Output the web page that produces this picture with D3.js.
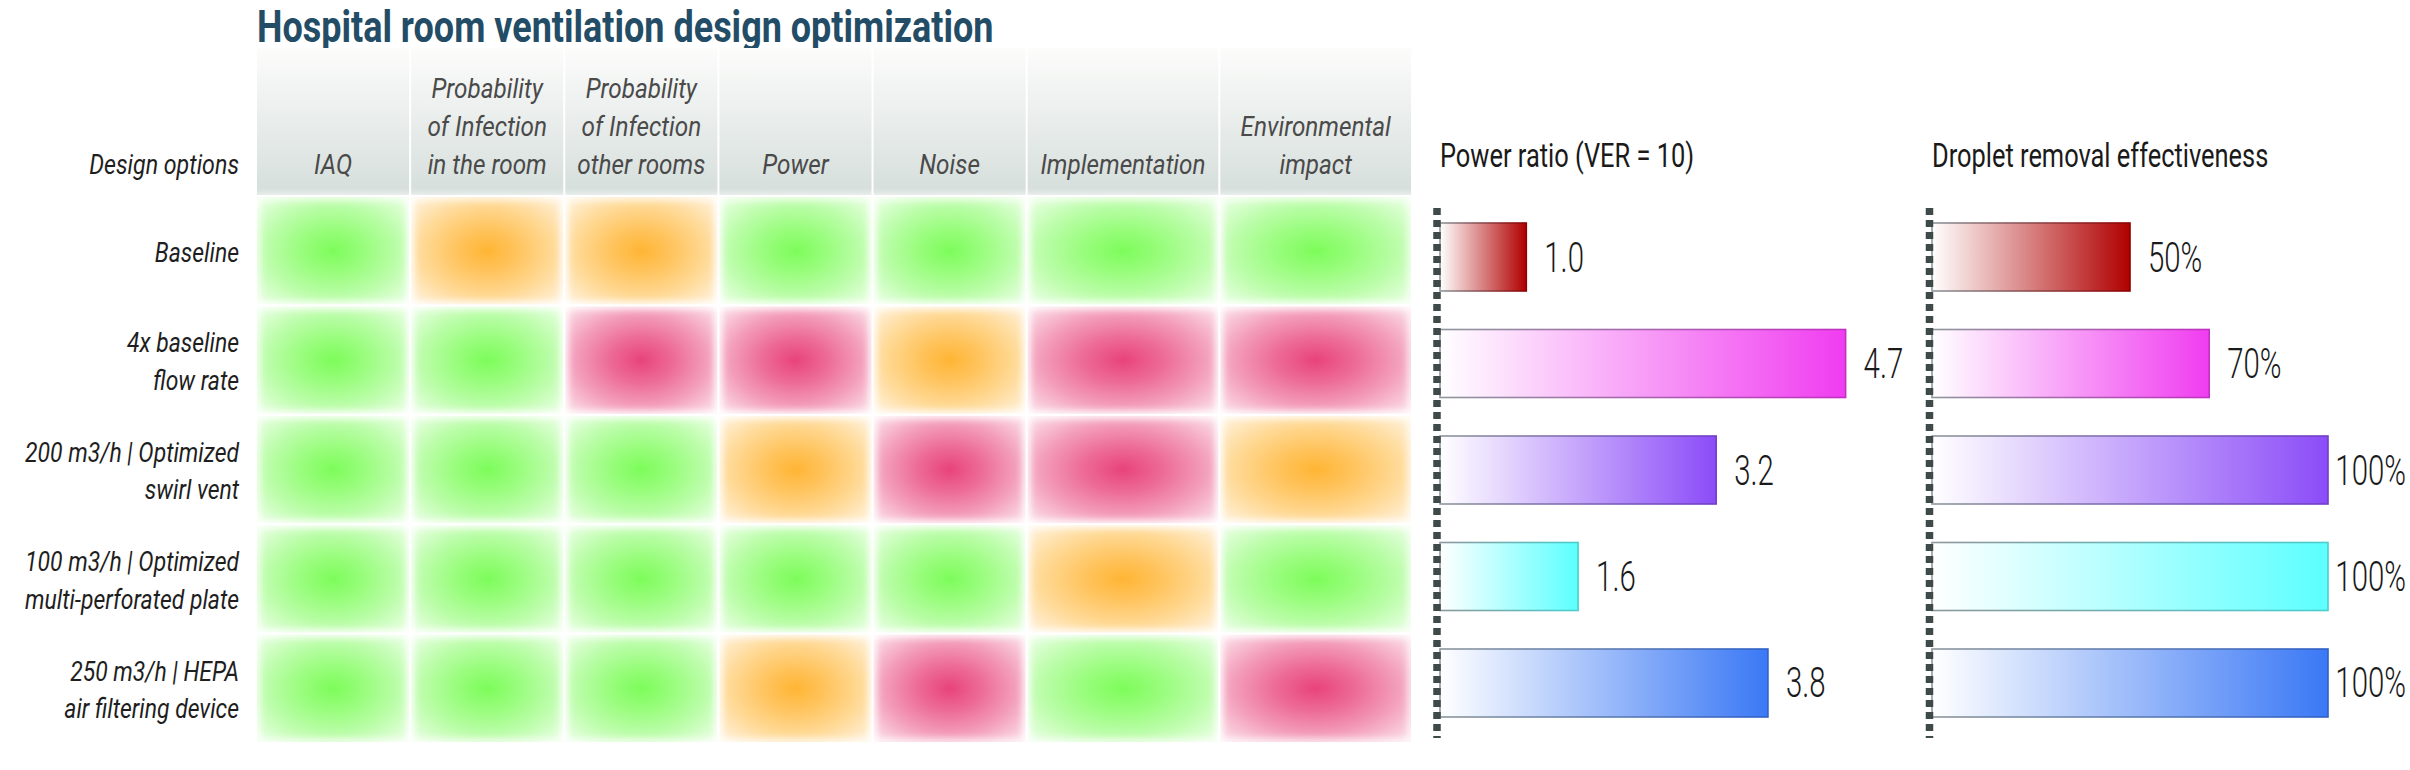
<!DOCTYPE html>
<html>
<head>
<meta charset="utf-8">
<script src="https://cdn.jsdelivr.net/npm/d3@7/dist/d3.min.js"></script>
<style>
  html, body { margin: 0; padding: 0; background: #ffffff; }
  svg { display: block; }
</style>
</head>
<body>
<svg id="chart" width="2410" height="770"></svg>
<script>
// ---------------- DATA ----------------
const chartTitle = "Hospital room ventilation design optimization";
const rowHeaderLabel = "Design options";
const designOptions = [
  "Baseline",
  "4x baseline\nflow rate",
  "200 m3/h | Optimized\nswirl vent",
  "100 m3/h | Optimized\nmulti-perforated plate",
  "250 m3/h | HEPA\nair filtering device"
];
const criteria = [
  "IAQ",
  "Probability\nof Infection\nin the room",
  "Probability\nof Infection\nother rooms",
  "Power",
  "Noise",
  "Implementation",
  "Environmental\nimpact"
];
// rating per option per criterion: 1 = good (green), 2 = moderate (orange), 3 = poor (red)
const ratingBaseline = [1, 2, 2, 1, 1, 1, 1];
const rating4x       = [1, 1, 3, 3, 2, 3, 3];
const rating200      = [1, 1, 1, 2, 3, 3, 2];
const rating100      = [1, 1, 1, 1, 1, 2, 1];
const rating250      = [1, 1, 1, 2, 3, 1, 3];
const ratings = [ratingBaseline, rating4x, rating200, rating100, rating250];

const powerTitle = "Power ratio (VER = 10)";
const powerRatio = [1.0, 4.7, 3.2, 1.6, 3.8];
const dropletTitle = "Droplet removal effectiveness";
const dropletRemoval = [50, 70, 100, 100, 100];

// ---------------- STYLE / LAYOUT ----------------
const W = 2410, H = 770;
const FONT = "Roboto, 'Liberation Sans', 'DejaVu Sans', sans-serif";
const ratingColors = {1: "#7dfc5a", 2: "#ffb534", 3: "#e8437a"};
const barColors = ["#b00000", "#f03cf0", "#8b4cf8", "#5cffff", "#3a78f5"];
const colWeights = [1, 1, 1, 1, 1, 1.25, 1.25];

const svg = d3.select("#chart");
svg.append("rect").attr("width", W).attr("height", H).attr("fill", "#ffffff");
const defs = svg.append("defs");

// condensed text helper
function ctext(parent, x, y, str, o) {
  const g = parent.append("g")
    .attr("transform", `translate(${x},${y}) scale(${o.sx || 0.8},1)`);
  const t = g.append("text")
    .attr("x", 0).attr("y", 0)
    .attr("font-family", FONT)
    .attr("font-size", o.size)
    .attr("font-weight", o.weight || 400)
    .attr("font-style", o.style || "normal")
    .attr("text-anchor", o.anchor || "start")
    .attr("fill", o.fill || "#222")
    .text(str);
  return {g, t};
}

// ---------------- TITLE ----------------
ctext(svg, 257, 42, chartTitle, {size: 44, weight: 700, fill: "#234d66", sx: 0.818});

// ---------------- HEATMAP ----------------
const cum = [0];
colWeights.forEach(w => cum.push(cum[cum.length - 1] + w));
const xCol = d3.scaleLinear().domain([0, cum[cum.length - 1]]).range([256, 1412]);
const yRow = d3.scaleBand().domain(d3.range(designOptions.length)).range([196, 743]);
const headerTop = 48, headerBottom = 195;

// header gradient
const hg = defs.append("linearGradient").attr("id", "hdr")
  .attr("x1", 0).attr("y1", 0).attr("x2", 0).attr("y2", 1);
hg.append("stop").attr("offset", "0%").attr("stop-color", "#fcfcfb");
hg.append("stop").attr("offset", "100%").attr("stop-color", "#d5dedb");

// radial gradients per rating
Object.entries(ratingColors).forEach(([k, c]) => {
  const rg = defs.append("radialGradient").attr("id", "rg" + k)
    .attr("cx", "50%").attr("cy", "50%").attr("r", "71%");
  const mix = t => d3.interpolateRgb("#ffffff", c)(t);
  [[0, 1], [0.3, 0.78], [0.6, 0.52], [0.8, 0.32], [1, 0.12]].forEach(([off, t]) => {
    rg.append("stop").attr("offset", off).attr("stop-color", mix(t));
  });
});
// soft white inner edge
const glow = defs.append("filter").attr("id", "glow")
  .attr("x", "-10%").attr("y", "-10%").attr("width", "120%").attr("height", "120%");
glow.append("feGaussianBlur").attr("stdDeviation", 3.5);

const header = svg.append("g");
criteria.forEach((c, i) => {
  const x0 = xCol(cum[i]), x1 = xCol(cum[i + 1]);
  header.append("rect")
    .attr("x", x0 + 1).attr("y", headerTop)
    .attr("width", x1 - x0 - 2).attr("height", headerBottom - headerTop)
    .attr("fill", "url(#hdr)");
  const lines = c.split("\n");
  lines.forEach((ln, j) => {
    const y = 174 - (lines.length - 1 - j) * 38;
    ctext(header, (x0 + x1) / 2, y, ln, {size: 27, weight: 400, style: "italic", anchor: "middle", fill: "#4a4a4a", sx: 0.9});
  });
});
ctext(header, 239, 174, rowHeaderLabel, {size: 27, weight: 400, style: "italic", anchor: "end", fill: "#1e1e1e", sx: 0.86});

const cells = svg.append("g");
ratings.forEach((row, r) => {
  row.forEach((v, i) => {
    const x0 = xCol(cum[i]), x1 = xCol(cum[i + 1]);
    cells.append("rect")
      .attr("x", x0 + 1).attr("y", yRow(r) + 1)
      .attr("width", x1 - x0 - 2).attr("height", yRow.bandwidth() - 2)
      .attr("fill", `url(#rg${v})`);
  });
});
const edges = svg.append("g").attr("filter", "url(#glow)");
ratings.forEach((row, r) => {
  row.forEach((v, i) => {
    const x0 = xCol(cum[i]), x1 = xCol(cum[i + 1]);
    edges.append("rect")
      .attr("x", x0 + 1).attr("y", yRow(r) + 1)
      .attr("width", x1 - x0 - 2).attr("height", yRow.bandwidth() - 2)
      .attr("fill", "none").attr("stroke", "#ffffff").attr("stroke-width", 5);
  });
});

// row labels
const rowLabels = svg.append("g");
designOptions.forEach((lab, r) => {
  const lines = lab.split("\n");
  const cy = yRow(r) + yRow.bandwidth() / 2;
  lines.forEach((ln, j) => {
    const y = cy + 11 + (j - (lines.length - 1) / 2) * 37.5;
    ctext(rowLabels, 239, y, ln, {size: 27, weight: 400, style: "italic", anchor: "end", fill: "#1e1e1e", sx: 0.85});
  });
});

// ---------------- BAR PANELS ----------------
const yBar = d3.scaleBand().domain(d3.range(designOptions.length))
  .range([223, 717]).paddingInner(0.3615).paddingOuter(0);

barColors.forEach((c, i) => {
  const fg = defs.append("linearGradient").attr("id", "bf" + i)
    .attr("x1", 0).attr("y1", 0).attr("x2", 1).attr("y2", 0);
  fg.append("stop").attr("offset", "0%").attr("stop-color", "#ffffff");
  fg.append("stop").attr("offset", "100%").attr("stop-color", c);
  const sg = defs.append("linearGradient").attr("id", "bs" + i)
    .attr("x1", 0).attr("y1", 0).attr("x2", 1).attr("y2", 0);
  sg.append("stop").attr("offset", "0%").attr("stop-color", "#8e979c");
  sg.append("stop").attr("offset", "100%").attr("stop-color", d3.color(c).darker(0.6));
});

function barPanel(title, values, x, fmt, axisX) {
  const g = svg.append("g");
  ctext(g, x.range()[0], 167, title, {size: 33, weight: 400, fill: "#1a1a1a", sx: 0.77});
  const LS = 0.7;
  values.forEach((v, i) => {
    const y = yBar(i), h = yBar.bandwidth();
    const x0 = x(0), x1 = x(v);
    g.append("rect")
      .attr("x", x0).attr("y", y).attr("width", x1 - x0).attr("height", h)
      .attr("fill", `url(#bf${i})`)
      .attr("stroke", `url(#bs${i})`).attr("stroke-width", 1.6);
    const by = y + h / 2 + 14.5;
    const lab = ctext(g, 0, by, fmt(v), {size: 42, weight: 300, fill: "#1a1a1a", sx: LS});
    const wlab = lab.t.node().getComputedTextLength() * LS;
    const lx = Math.min(x1 + 18, W - 4 - wlab);
    lab.g.attr("transform", `translate(${lx},${by}) scale(${LS},1)`);
  });
  g.append("line")
    .attr("x1", axisX).attr("x2", axisX).attr("y1", 208).attr("y2", 738)
    .attr("stroke", "#3e4949").attr("stroke-width", 7.5)
    .attr("stroke-dasharray", "7,5");
}

const xPower = d3.scaleLinear().domain([0, 5]).range([1440, 1440 + 5 * 86.3]);
barPanel(powerTitle, powerRatio, xPower, d3.format(".1f"), 1437);

const xDrop = d3.scaleLinear().domain([0, 100]).range([1932, 2328]);
barPanel(dropletTitle, dropletRemoval, xDrop, v => v + "%", 1929.5);
</script>
</body>
</html>
